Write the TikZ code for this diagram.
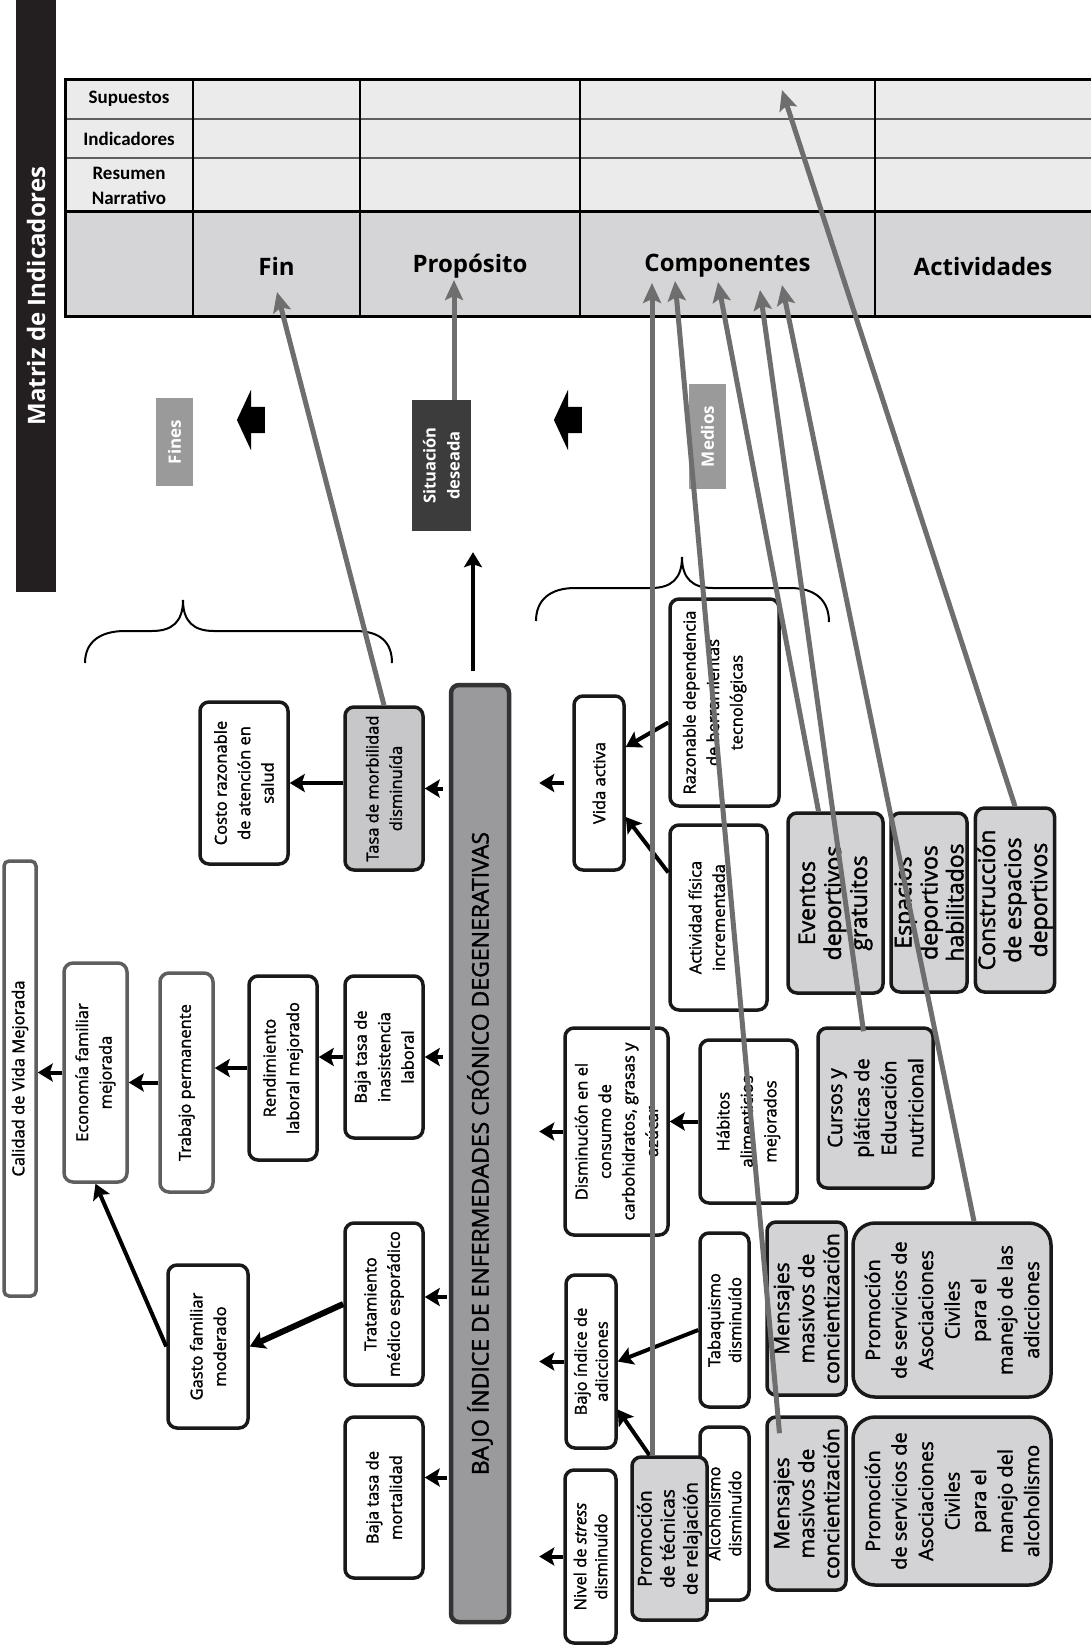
\documentclass[tikz,border=0pt]{standalone}
\usepackage{fontspec}
\setmainfont{Open Sans}
\newfontfamily\boxfont{Open Sans}[FakeBold=1.6]
\newfontfamily\condfont{Carlito}
\usetikzlibrary{arrows.meta, shapes.arrows}

\definecolor{barfill}{HTML}{9A9A9C}
\definecolor{compfill}{HTML}{D3D3D5}
\definecolor{morbfill}{HTML}{C7C7C9}
\definecolor{linegray}{HTML}{6E6E6E}
\definecolor{framegray}{HTML}{5E5E5E}
\definecolor{tablight}{HTML}{EBEBEC}
\definecolor{tabdark}{HTML}{D5D5D7}
\definecolor{titlebg}{HTML}{231F20}
\definecolor{sitfill}{HTML}{3C3C3C}
\definecolor{labgray}{HTML}{9A9A9A}

\begin{document}
\begin{tikzpicture}[x=1pt, y=-1pt,
    box/.style={rotate=90, draw=black!90, line width=3.5pt, rounded corners=9pt, fill=white,
                align=center, inner sep=2pt, font=\boxfont\fontsize{16.5}{23.5}\selectfont},
    softbox/.style={box, draw=framegray},
    narrow/.style={box, inner sep=0pt, font=\boxfont\fontsize{16.5}{21}\selectfont},
    comp/.style={box, fill=compfill, font=\boxfont\fontsize{21}{25}\selectfont},
    sport/.style={comp, font=\boxfont\fontsize{23}{26}\selectfont},
    arr/.style={line width=4pt, -{Stealth[length=15pt, width=18pt, inset=3pt]}},
    garr/.style={draw=linegray, line width=5pt, -{Stealth[length=20pt, width=18pt, inset=4pt]}},
    tag/.style={rotate=90, fill=labgray, text=white, inner sep=0pt,
                font=\bfseries\fontsize{17}{21}\selectfont},
    blockarr/.style={single arrow, fill=black, minimum height=28pt, inner xsep=0pt, inner ysep=13pt,
                single arrow head extend=17pt, single arrow tip angle=130, shape border rotate=180},
    rowlab/.style={align=center, font=\condfont\bfseries\fontsize{19}{25}\selectfont},
    hdr/.style={font=\bfseries\fontsize{24}{28}\selectfont},
    brace/.style={line width=2pt},
]
\useasboundingbox (0,0) rectangle (1091,1650);

% matriz de indicadores
\fill[tablight] (65,79) rectangle (1091,211);
\fill[tabdark] (65,211) rectangle (1091,316);
\foreach \y in {119,158} \draw[framegray, line width=2.5pt] (65,\y) -- (1091,\y);
\draw[line width=3pt] (65,211) -- (1091,211);
\foreach \x in {193,360,580,875} \draw[line width=2.5pt] (\x,79) -- (\x,316);
\draw[line width=3pt] (1091,79) -- (65,79) -- (65,316) -- (1091,316);

\node[rowlab] (supuestos)   at (129,99)    {Supuestos};
\node[rowlab] (indicadores) at (129,138.5) {Indicadores};
\node[rowlab] (resumen)     at (129,186)   {Resumen\\Narrativo};
\node[hdr] (fin)         at (276.5,266) {Fin};
\node[hdr] (proposito)   at (470,266)   {Propósito};
\node[hdr] (componentes) at (727.5,266) {Componentes};
\node[hdr] (actividades) at (983,266)   {Actividades};

\node[rotate=90, fill=titlebg, text=white, minimum width=592pt, minimum height=40pt, inner sep=0pt,
      font=\bfseries\fontsize{24}{28}\selectfont] (titulo) at (36,296) {Matriz de Indicadores};

\coordinate (tipFin)  at (277,292);
\coordinate (tipProp) at (454,280);
\coordinate (tipC1)   at (652,283);
\coordinate (tipC2)   at (675,281);
\coordinate (tipC3)   at (718,282);
\coordinate (tipC4)   at (760,290);
\coordinate (tipC5)   at (782,285);
\coordinate (tipSup)  at (782,90);

% fines / medios
\node[tag, minimum width=88pt, minimum height=37pt]  (fines)  at (174.5,442)   {Fines};
\node[tag, minimum width=105pt, minimum height=37pt] (medios) at (707.5,436.5) {Medios};
\node[tag, fill=sitfill, align=center, minimum width=131pt, minimum height=59pt,
      font=\bfseries\fontsize{16.5}{24}\selectfont] (situacion) at (441.5,465.5) {Situación\\deseada};
\node[blockarr] (flechafines)  at (254,420) {};
\node[blockarr] (flechamedios) at (571,420) {};

\draw[brace] (85,663) .. controls (85,642) and (100,631) .. (125,631) -- (152,631)
    .. controls (172,631) and (183,622) .. (183,600) .. controls (183,622) and (194,631) .. (214,631)
    -- (355,631) .. controls (380,631) and (392,642) .. (392,663);
\draw[brace] (536,621) .. controls (536,600) and (550,588) .. (575,588) -- (651,588)
    .. controls (671,588) and (682,579) .. (682,557) .. controls (682,579) and (693,588) .. (713,588)
    -- (790,588) .. controls (815,588) and (829,600) .. (829,622);

% problema central
\node[box, fill=barfill, draw=black!80, line width=4.5pt, rounded corners=8pt, minimum width=937pt,
      minimum height=58pt, font=\boxfont\fontsize{23}{28}\selectfont] (bajo) at (480,1153.5)
      {BAJO ÍNDICE DE ENFERMEDADES CRÓNICO DEGENERATIVAS};

% efectos
\node[softbox, rounded corners=5pt, inner sep=0pt, minimum width=435pt, minimum height=32pt] (calidad) at (20,1078.5) {Calidad de Vida Mejorada};
\node[softbox, minimum width=219pt, minimum height=63pt] (economia) at (95.5,1072.5) {Economía familiar\\mejorada};
\node[softbox, minimum width=219pt, minimum height=53pt] (trabajo)  at (186.5,1082.5) {Trabajo permanente};
\node[box, minimum width=184pt, minimum height=68pt] (rendimiento)  at (283,1068) {Rendimiento\\laboral mejorado};
\node[box, minimum width=162pt, minimum height=78pt] (inasistencia) at (384,1057) {Baja tasa de\\inasistencia\\laboral};
\node[box, minimum width=162pt, minimum height=88pt] (costo)        at (244,783) {Costo razonable\\de atención en\\salud};
\node[box, fill=morbfill, minimum width=163pt, minimum height=78pt] (morbilidad) at (384,788.5) {Tasa de morbilidad\\disminuída};
\node[box, minimum width=163pt, minimum height=80pt] (gasto)        at (208,1346.5) {Gasto familiar\\moderado};
\node[box, minimum width=162pt, minimum height=78pt] (tratamiento)  at (384,1304) {Tratamiento\\médico esporádico};
\node[box, minimum width=161pt, minimum height=78pt] (mortalidad)   at (384,1497.5) {Baja tasa de\\mortalidad};

% causas
\node[box, minimum width=174pt, minimum height=50pt]  (vida)        at (599,783) {Vida activa};
\node[box, minimum width=207pt, minimum height=109pt] (razonable)   at (724.5,702.5) {Razonable dependencia\\de herramientas\\tecnológicas\\\mbox{}};
\node[box, minimum width=185pt, minimum height=97pt]  (actividad)   at (718.5,917.5) {Actividad física\\incrementada\\\mbox{}};
\node[box, minimum width=207pt, minimum height=103pt] (disminucion) at (616.5,1131.5) {Disminución en el\\consumo de\\carbohidratos, grasas y\\azúcar};
\node[box, minimum width=163pt, minimum height=97pt]  (habitos)     at (748.5,1121.5) {Hábitos\\alimenticios\\mejorados};
\node[narrow, minimum width=173pt, minimum height=50pt] (adicciones)  at (591,1361.5) {Bajo índice de\\adicciones};
\node[narrow, minimum width=174pt, minimum height=49pt] (tabaquismo)  at (724.5,1320) {Tabaquismo\\disminuído};
\node[narrow, minimum width=173pt, minimum height=51pt] (stress)      at (590.5,1556.5) {Nivel de \textit{stress}\\disminuído};
\node[narrow, minimum width=173pt, minimum height=49pt] (alcoholismo) at (724.5,1513.5) {Alcoholismo\\disminuído};

% componentes y actividades
\node[comp, minimum width=163pt, minimum height=75pt, font=\boxfont\fontsize{19}{23}\selectfont] (relajacion) at (669.5,1538.5) {Promoción\\de técnicas\\de relajación};
\node[sport, minimum width=180pt, minimum height=95pt] (eventos)      at (835.5,903) {Eventos\\deportivos\\gratuitos};
\node[sport, minimum width=179pt, minimum height=76pt] (espacios)     at (929,902.5) {Espacios\\deportivos\\habilitados};
\node[sport, minimum width=184pt, minimum height=78pt] (construccion) at (1015,900) {Construcción\\de espacios\\deportivos};
\node[comp, minimum width=160pt, minimum height=115pt, font=\boxfont\fontsize{20}{27}\selectfont] (cursos) at (875.5,1108) {Cursos y\\pláticas de\\Educación\\nutricional};
\node[comp, minimum width=173pt, minimum height=79pt] (mensajesA) at (806.5,1308.5) {Mensajes\\masivos de\\concientización};
\node[comp, minimum width=173pt, minimum height=79pt] (mensajesB) at (806.5,1503.5) {Mensajes\\masivos de\\concientización};
\node[comp, rounded corners=22pt, minimum width=174pt, minimum height=198pt, font=\boxfont\fontsize{20}{26.5}\selectfont] (promadic) at (952,1310)
      {Promoción\\de servicios de\\Asociaciones\\Civiles\\para el\\manejo de las\\adicciones};
\node[comp, rounded corners=22pt, minimum width=168pt, minimum height=198pt, font=\boxfont\fontsize{20}{26.5}\selectfont] (promalc) at (952,1501)
      {Promoción\\de servicios de\\Asociaciones\\Civiles\\para el\\manejo del\\alcoholismo};

% relaciones causa-efecto
\draw[arr] (economia.north) -- (economia.north -| calidad.south);
\draw[arr] (trabajo.north) -- (trabajo.north -| economia.south);
\draw[arr] (rendimiento.north) -- (rendimiento.north -| trabajo.south);
\draw[arr] (inasistencia.north) -- (inasistencia.north -| rendimiento.south);
\draw[arr] (costo.south -| morbilidad.north) -- (costo.south);
\draw[arr, shorten <=6pt] (morbilidad.south -| bajo.north) -- (morbilidad.south);
\draw[arr, shorten <=6pt] (inasistencia.south -| bajo.north) -- (inasistencia.south);
\draw[arr, shorten <=6pt] ([xshift=28pt, yshift=7pt]tratamiento.south) -- ([yshift=7pt]tratamiento.south);
\draw[arr, shorten <=6pt] ([xshift=28pt, yshift=20pt]mortalidad.south) -- ([yshift=20pt]mortalidad.south);
\draw[arr, line width=6pt] (tratamiento.north) -- (gasto.south);
\draw[arr] (gasto.north) -- (economia.west);
\draw[arr, shorten <=12pt, shorten >=21pt] ([xshift=-7pt]bajo.east) -- ([xshift=31.5pt]situacion.west);

\draw[arr, shorten <=8pt, shorten >=28pt] (vida.north) -- (vida.north -| bajo.south);
\draw[arr, shorten >=28pt] (disminucion.north) -- (disminucion.north -| bajo.south);
\draw[arr, shorten >=28pt] (adicciones.north) -- (adicciones.north -| bajo.south);
\draw[arr, shorten >=28pt] (stress.north) -- (stress.north -| bajo.south);
\draw[arr] ([yshift=-20pt]razonable.north) -- ([yshift=36pt]vida.south);
\draw[arr] ([yshift=45pt]actividad.north) -- ([yshift=-34pt]vida.south);
\draw[arr] (habitos.north) -- (habitos.north -| disminucion.south);
\draw[arr] ([yshift=-10pt]tabaquismo.north) -- (adicciones.south);
\draw[arr] ([xshift=-20pt]relajacion.east) -- ([yshift=-48pt]adicciones.south);

% vinculo con la matriz
\draw[garr] (morbilidad.east) -- (tipFin);
\draw[garr] (situacion.east -| tipProp) -- (tipProp);
\draw[garr] (relajacion.east -| tipC1) -- (tipC1);
\draw[garr] ([xshift=-27pt, yshift=-18pt]mensajesB.east) -- (tipC2);
\draw[garr] ([xshift=-17pt]eventos.east) -- (tipC3);
\draw[garr] ([xshift=-12pt, yshift=-5pt]cursos.east) -- (tipC4);
\draw[garr] ([xshift=22pt]promadic.east) -- (tipC5);
\draw[garr] (construccion.east) -- (tipSup);
\end{tikzpicture}
\end{document}
